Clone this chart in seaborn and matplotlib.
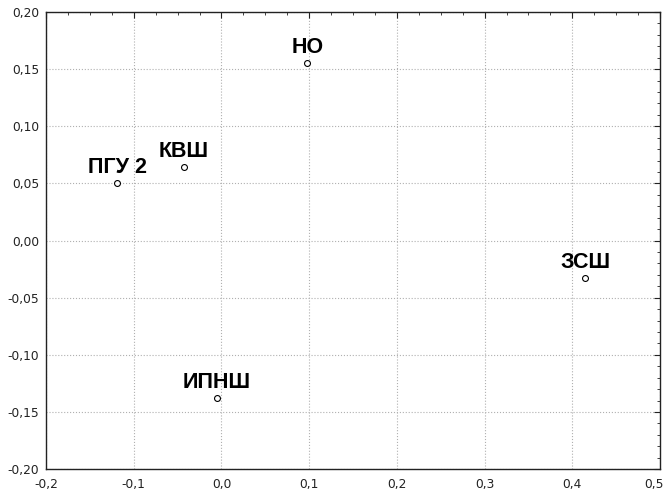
import pandas as pd
import matplotlib
matplotlib.use('Agg')
import matplotlib.pyplot as plt
import matplotlib.ticker as mticker
import matplotlib.transforms as mtransforms
import seaborn as sns

# data
labels = ['НО', 'КВШ', 'ПГУ 2', 'ЗСШ', 'ИПНШ']
x_vals = [0.098, -0.043, -0.119, 0.415, -0.005]
y_vals = [0.155, 0.064, 0.050, -0.033, -0.138]

df = pd.DataFrame({'x': x_vals, 'y': y_vals, 'label': labels})

sns.set_style('white')
plt.rcParams['font.family'] = ['DejaVu Sans']

fig = plt.figure(figsize=(6.68, 4.96), dpi=100)
ax = fig.add_axes([0.069, 0.054, 0.919, 0.922])

sns.scatterplot(data=df, x='x', y='y', ax=ax, marker='o', s=18,
                facecolor='white', edgecolor='black', linewidth=0.8, zorder=3)

# point labels, bold Arial-like, centred above each point
for _, row in df.iterrows():
    ax.annotate(row['label'], xy=(row['x'], row['y']), xytext=(0, 7.5),
                textcoords='offset points', ha='center', va='baseline',
                fontsize=15.5, fontweight='bold', color='black',
                family=['Liberation Sans', 'DejaVu Sans'])

ax.set_xlim(-0.2, 0.5)
ax.set_ylim(-0.2, 0.2)
ax.xaxis.set_major_locator(mticker.MultipleLocator(0.1))
ax.xaxis.set_minor_locator(mticker.MultipleLocator(0.025))
ax.yaxis.set_major_locator(mticker.MultipleLocator(0.05))
ax.yaxis.set_minor_locator(mticker.MultipleLocator(0.01))
ax.xaxis.set_major_formatter(mticker.FuncFormatter(lambda v, p: f'{v:.1f}'.replace('.', ',')))
ax.yaxis.set_major_formatter(mticker.FuncFormatter(lambda v, p: f'{v:.2f}'.replace('.', ',')))

ax.grid(True, which='major', color='#b0b0b0', linestyle=':', linewidth=0.8)
ax.tick_params(which='both', direction='in', top=True, right=True, labelsize=8.8,
               colors='#222222')
ax.tick_params(axis='y', which='major', pad=5)
ax.tick_params(axis='x', which='major', pad=6)
ax.tick_params(which='major', length=4, width=0.8)
ax.tick_params(which='minor', length=2, width=0.6)
for sp in ax.spines.values():
    sp.set_visible(True)
    sp.set_color('#222222')
    sp.set_linewidth(1.0)

ax.set_xlabel('')
ax.set_ylabel('')
ax.set_facecolor('white')

# the "0,5" label sits a little left so it stays inside the image
fig.canvas.draw()
for lab in ax.get_xticklabels():
    if lab.get_text() == '0,5':
        lab.set_transform(lab.get_transform() +
                          mtransforms.ScaledTranslation(-4 / 72, 0, fig.dpi_scale_trans))

plt.savefig('out.png', dpi=100)
